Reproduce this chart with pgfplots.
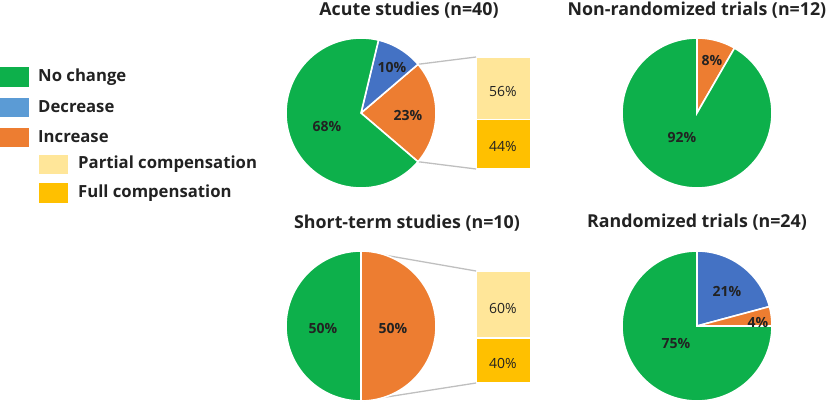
\documentclass[border=0pt]{standalone}
\usepackage{pgfplots}
\pgfplotsset{compat=1.18}
\usepackage{fontspec}
\setmainfont{Open Sans}
\definecolor{cgreen}{HTML}{0DB04B}
\definecolor{cblue}{HTML}{4472C4}
\definecolor{cblueL}{HTML}{5B9BD5}
\definecolor{corange}{HTML}{ED7D31}
\definecolor{cpartial}{HTML}{FFE699}
\definecolor{cfull}{HTML}{FFC000}
\definecolor{cline}{HTML}{BFBFBF}
\definecolor{ctext}{HTML}{222222}
\newcommand{\ttl}{\fontsize{17.8bp}{20bp}\selectfont\bfseries}
\newcommand{\leg}{\fontsize{16.7bp}{20bp}\selectfont\bfseries}
\newcommand{\lbl}{\fontsize{14bp}{16bp}\selectfont\bfseries}
\newcommand{\blbl}{\fontsize{14bp}{16bp}\selectfont}
% pie slice: centre x, centre y, start angle, end angle, colour (radius 75)
\newcommand{\slice}[5]{\addplot[fill=#5, draw=white, line width=1.6bp, domain=#3:#4, samples=90, variable=\t] ({#1+75*cos(\t)},{#2-75*sin(\t)}) -- (#1,#2) -- cycle;}
\begin{document}
\begin{tikzpicture}[text=ctext]
% bar of pie: Acute studies increase (n=9): 5 partial, 4 full
\begin{axis}[at={(476bp,236bp)}, anchor=south west, scale only axis, width=55bp, height=112bp,
  hide axis, xmin=-0.5, xmax=0.5, ymin=0, ymax=100, ybar stacked, bar width=1, clip=false]
\addplot[fill=cfull, draw=white, line width=1.5bp] coordinates {(0,44.4)};
\addplot[fill=cpartial, draw=white, line width=1.5bp] coordinates {(0,55.6)};
\end{axis}
% bar of pie: Short-term studies increase (n=5): 3 partial, 2 full
\begin{axis}[at={(476bp,22bp)}, anchor=south west, scale only axis, width=55bp, height=112bp,
  hide axis, xmin=-0.5, xmax=0.5, ymin=0, ymax=100, ybar stacked, bar width=1, clip=false]
\addplot[fill=cfull, draw=white, line width=1.5bp] coordinates {(0,40)};
\addplot[fill=cpartial, draw=white, line width=1.5bp] coordinates {(0,60)};
\end{axis}
\begin{axis}[at={(0,0)}, anchor=south west, scale only axis, width=830bp, height=405bp,
  xmin=0, xmax=830, ymin=0, ymax=405, y dir=reverse, hide axis, clip=false]
% connector lines (behind pies)
\addplot[cline, line width=1.3bp] coordinates {(418,64.3) (476,57)};
\addplot[cline, line width=1.3bp] coordinates {(418,161.7) (476,169)};
\addplot[cline, line width=1.3bp] coordinates {(361,251) (476,271)};
\addplot[cline, line width=1.3bp] coordinates {(361,401) (476,383)};
% Acute studies (n=40): 27 no change, 4 decrease, 9 increase
\slice{361}{113}{-40.5}{40.5}{corange}
\slice{361}{113}{40.5}{76.5}{cblue}
\slice{361}{113}{76.5}{319.5}{cgreen}
% Non-randomized trials (n=12): 11 no change, 1 increase
\slice{697}{113}{60}{90}{corange}
\slice{697}{113}{90}{420}{cgreen}
% Short-term studies (n=10): 5 no change, 5 increase
\slice{361}{326}{-90}{90}{corange}
\slice{361}{326}{90}{270}{cgreen}
% Randomized trials (n=24): 18 no change, 5 decrease, 1 increase
\slice{697}{326}{15}{90}{cblue}
\slice{697}{326}{0}{15}{corange}
\slice{697}{326}{90}{360}{cgreen}
% pie labels
\node[font=\lbl] at (327,126) {68\%};
\node[font=\lbl] at (392,67) {10\%};
\node[font=\lbl] at (408,115) {23\%};
\node[font=\lbl] at (712,60) {8\%};
\node[font=\lbl] at (682,137) {92\%};
\node[font=\lbl] at (323,328) {50\%};
\node[font=\lbl] at (393,328) {50\%};
\node[font=\lbl] at (727,291) {21\%};
\node[font=\lbl] at (758,322) {4\%};
\node[font=\lbl] at (676,343) {75\%};
% bar labels
\node[font=\blbl] at (503,91.5) {56\%};
\node[font=\blbl] at (503,146.5) {44\%};
\node[font=\blbl] at (503,308.5) {60\%};
\node[font=\blbl] at (503,363.5) {40\%};
% titles
\node[font=\ttl] at (409,10) {Acute studies (n=40)};
\node[font=\ttl] at (697,10) {Non-randomized trials (n=12)};
\node[font=\ttl] at (407,223) {Short-term studies (n=10)};
\node[font=\ttl] at (697,222) {Randomized trials (n=24)};
% legend
\fill[cgreen] (0,67) rectangle (29,87);
\fill[cblueL] (0,98) rectangle (29,117);
\fill[corange] (0,128) rectangle (29,147);
\fill[cpartial] (39,155) rectangle (68,174);
\fill[cfull] (39,183) rectangle (68,203);
\node[font=\leg, anchor=west, inner sep=0pt] at (38,77) {No change};
\node[font=\leg, anchor=west, inner sep=0pt] at (38,107) {Decrease};
\node[font=\leg, anchor=west, inner sep=0pt] at (38,137) {Increase};
\node[font=\leg, anchor=west, inner sep=0pt] at (78,164.5) {Partial compensation};
\node[font=\leg, anchor=west, inner sep=0pt] at (78,193) {Full compensation};
\end{axis}
\pgfresetboundingbox
\useasboundingbox (0,0) rectangle (830bp,405bp);
\end{tikzpicture}
\end{document}
